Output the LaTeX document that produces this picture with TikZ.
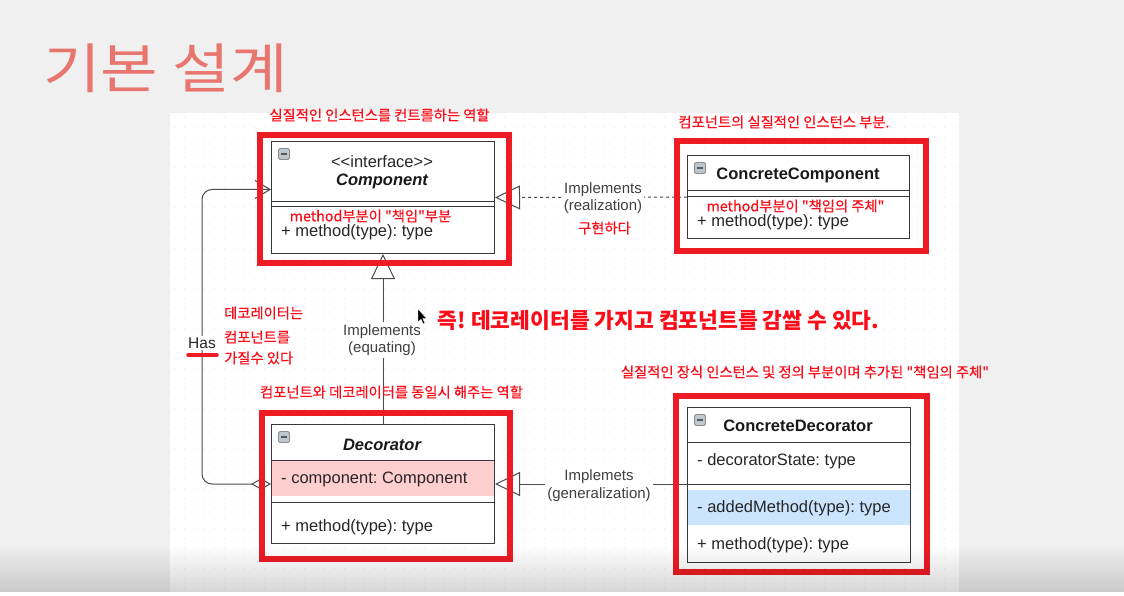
\documentclass[tikz,border=0pt]{standalone}
\usepackage{graphicx}
\usepackage{fontspec}
\setmainfont{Liberation Sans}
\newfontfamily\krfont{Noto Sans CJK KR}
\newfontfamily\krmed{Noto Sans CJK KR}[FakeBold=0.4]
\usetikzlibrary{arrows.meta}
\definecolor{bgc}{RGB}{240,240,240}
\definecolor{boxred}{RGB}{237,28,36}
\definecolor{titlecol}{RGB}{232,117,110}
\definecolor{pinkband}{RGB}{255,206,206}
\definecolor{blueband}{RGB}{204,229,255}
\definecolor{umlline}{RGB}{55,55,55}
\definecolor{annot}{RGB}{252,12,24}
\definecolor{iconfill}{RGB}{190,198,206}
\begin{document}
\frenchspacing
\begin{tikzpicture}[x=1pt,y=-1pt,
  umlbox/.style={draw=umlline, line width=1pt, fill=white, inner sep=0pt, anchor=north west},
  umltxt/.style={font=\frenchspacing\fontsize{16.5}{19}\selectfont, text=black!85, inner sep=0pt},
  umlhead/.style={font=\fontsize{16.5}{19}\selectfont\bfseries, text=black!90, inner sep=0pt},
  sepline/.style={draw=umlline, line width=1pt},
  lbl/.style={fill=white, align=center, font=\fontsize{15}{17.5}\selectfont, text=black!75, inner sep=2pt},
  note/.style={font=\krmed\fontsize{14.3}{16}\selectfont, text=annot, inner sep=0pt},
  redbox/.style={draw=boxred, line width=6pt},
  conn/.style={draw=umlline!90, line width=1pt},
  tri/.style={-{Triangle[open, length=25pt, width=24pt, line width=1pt]}},
  iconbox/.style={draw=black!45, fill=iconfill, rounded corners=1.5pt, line width=0.8pt, minimum size=11pt, inner sep=0pt}
]
\useasboundingbox (0,0) rectangle (1124,596);
% backgrounds
\fill[bgc] (0,0) rectangle (1124,596);
\fill[white] (170,113) rectangle (959,592);
\foreach \yy in {118,128,...,588}
  \draw[black!9, line width=1pt, dash pattern=on 1pt off 9pt] (174,\yy) -- (958,\yy);

% title
\node[font=\krfont\fontsize{54}{60}\selectfont, text=titlecol, anchor=west, inner sep=0pt] (title) at (43,68.5) {\scalebox{1.16}[1]{기본 설계}};

% ---------- Component ----------
\node[umlbox, minimum width=223pt, minimum height=112pt] (comp) at (271,141) {};
\draw[sepline] (271,202) -- (494,202);
\draw[sepline] (271,207) -- (494,207);
\node[iconbox] (compicon) at (284,154) {};
\draw[black!65, line width=1.2pt] (281,154) -- (287,154);
\node[umltxt] (compst) at (382,162) {<\kern0pt<interface>\kern0pt>};
\node[umlhead, font=\fontsize{16.5}{19}\selectfont\bfseries\itshape] (compname) at (382,181) {Component};
\node[umltxt, anchor=west] (compm) at (281,232) {+ method(type): type};

% ---------- ConcreteComponent ----------
\node[umlbox, minimum width=222pt, minimum height=83pt] (cc) at (687,155) {};
\draw[sepline] (687,191) -- (909,191);
\draw[sepline] (687,197) -- (909,197);
\node[iconbox] (ccicon) at (700,168) {};
\draw[black!65, line width=1.2pt] (697,168) -- (703,168);
\node[umlhead] (ccname) at (798,175) {ConcreteComponent};
\node[umltxt, anchor=west] (ccm) at (697,222) {+ method(type): type};

% ---------- Decorator ----------
\node[umlbox, minimum width=223pt, minimum height=119pt] (dec) at (271,424) {};
\fill[pinkband] (271.5,460.5) rectangle (493.5,496);
\draw[sepline] (271,460) -- (494,460);
\draw[sepline] (271,502) -- (494,502);
\node[iconbox] (decicon) at (284,437) {};
\draw[black!65, line width=1.2pt] (281,437) -- (287,437);
\node[umlhead, font=\fontsize{16.5}{19}\selectfont\bfseries\itshape] (decname) at (382,445) {Decorator};
\node[umltxt, anchor=west] (deca) at (281,479) {- component: Component};
\node[umltxt, anchor=west] (decm) at (281,527) {+ method(type): type};

% ---------- ConcreteDecorator ----------
\node[umlbox, minimum width=223pt, minimum height=155pt] (cd) at (687,407) {};
\draw[sepline] (687,442) -- (910,442);
\draw[sepline] (687,484) -- (910,484);
\fill[blueband] (687.5,490) rectangle (909.5,525);
\node[iconbox] (cdicon) at (700,420) {};
\draw[black!65, line width=1.2pt] (697,420) -- (703,420);
\node[umlhead] (cdname) at (798,426) {ConcreteDecorator};
\node[umltxt, anchor=west] (cda) at (697,461) {- decoratorState: type};
\node[umltxt, anchor=west] (cdadd) at (697,508) {- addedMethod(type): type};
\node[umltxt, anchor=west] (cdm) at (697,545) {+ method(type): type};

% ---------- connectors ----------
\coordinate (hasin) at ([yshift=8pt]comp.west);
\draw[conn, tri, dash pattern=on 3pt off 3pt] (cc.west) -- (comp.east);
\draw[conn, tri] (dec.north) -- (comp.south);
\draw[conn, tri] (cd.west |- dec.east) -- (dec.east);
\draw[conn, rounded corners=10pt, {Diamond[open, length=20pt, width=11pt, line width=1pt]}-{Straight Barb[length=15pt, width=18pt, line width=1pt]}]
  (dec.west) -- ++(-69,0) |- (hasin);

% connector labels
\node[lbl] (lreal) at (603,198) {Implements\\(realization)};
\node[lbl] (lequ) at (382,340) {Implements\\(equating)};
\node[lbl] (lgen) at (599,485.5) {Implemets\\(generalization)};
\node[lbl, font=\fontsize{15.5}{18}\selectfont, text=black!85] (has) at (202,343) {Has};
\draw[boxred, line width=3.5pt, line cap=round] (188,355) -- (217,355);

% ---------- red highlight boxes ----------
\draw[redbox] (260.3,134.7) rectangle (508.7,262.7);
\draw[redbox] (677,141) rectangle (926,251);
\draw[redbox] (262,413) rectangle (510,559);
\draw[redbox] (676,396) rectangle (927,572);

% ---------- annotations ----------
\node[note] (n1) at (379.5,115) {실질적인 인스턴스를 컨트롤하는 역할};
\node[note] (n2) at (370.5,216) {method부분이 "책임"부분};
\node[note] (n3) at (784,122) {컴포넌트의 실질적인 인스턴스 부분.};
\node[note] (n4) at (795.5,206) {method부분이 "책임의 주체"};
\node[note] (n5) at (604.5,228) {구현하다};
\node[note, anchor=west] (n6a) at (224,313) {데코레이터는};
\node[note, anchor=west] (n6b) at (224,337) {컴포넌트를};
\node[note, anchor=west] (n6c) at (224,358) {가질수 있다};
\node[note, font=\krfont\bfseries\fontsize{21.5}{24}\selectfont] (big) at (658.5,320) {즉! 데코레이터를 가지고 컴포넌트를 감쌀 수 있다.};
\node[note] (n8) at (391.5,392) {컴포넌트와 데코레이터를 동일시 해주는 역할};
\node[note] (n9) at (805,372) {실질적인 장식 인스턴스 및 정의 부분이며 추가된 "책임의 주체"};

% mouse cursor
\filldraw[fill=black, draw=white, line width=0.4pt] (418,309) -- (418,322) -- (421,319.3) -- (423.3,324) -- (425,323.2) -- (422.8,318.6) -- (426.6,318.4) -- cycle;

% bottom shading
\foreach \i [evaluate=\i as \op using \i*0.0034] in {0,...,46}
  \fill[black, opacity=\op] (0,545+\i) rectangle (1124,546+\i);
\fill[white] (0,592) rectangle (1124,596);
\end{tikzpicture}
\end{document}
